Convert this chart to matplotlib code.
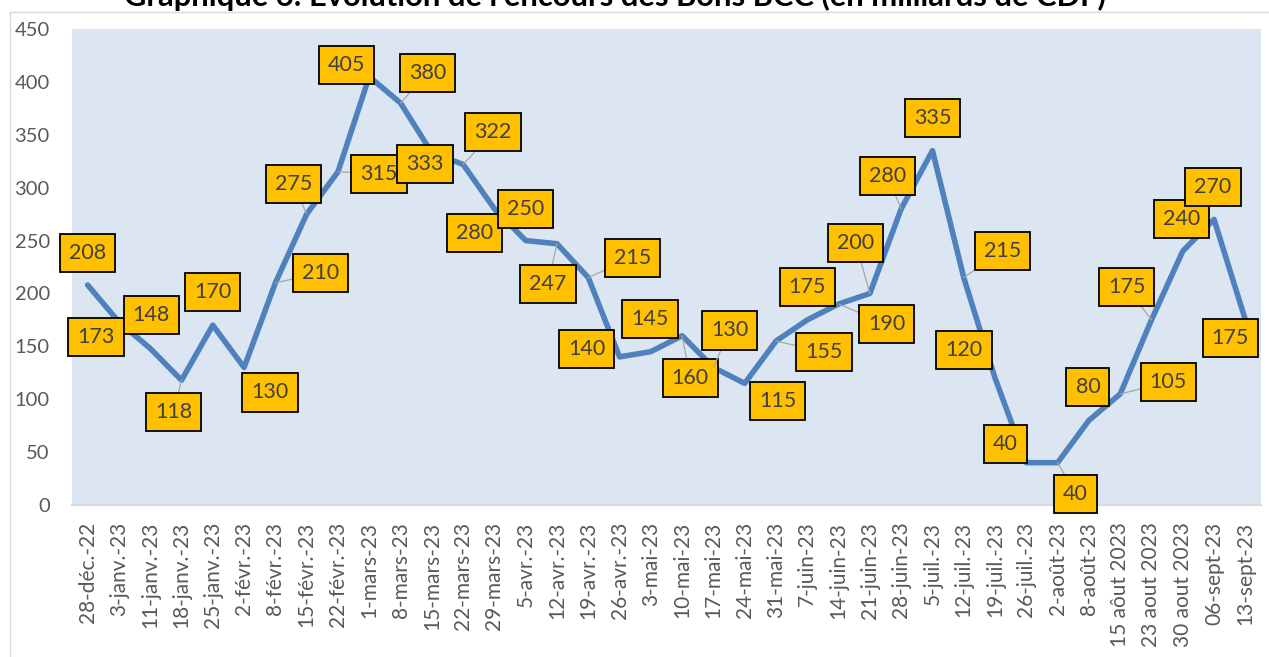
import numpy as np
import matplotlib
matplotlib.use("Agg")
import matplotlib.pyplot as plt
from matplotlib.lines import Line2D


# DATA

dates = [
    "28-déc.-22", "3-janv.-23", "11-janv.-23", "18-janv.-23", "25-janv.-23",
    "2-févr.-23", "8-févr.-23", "15-févr.-23", "22-févr.-23", "1-mars-23",
    "8-mars-23", "15-mars-23", "22-mars-23", "29-mars-23", "5-avr.-23",
    "12-avr.-23", "19-avr.-23", "26-avr.-23", "3-mai-23", "10-mai-23",
    "17-mai-23", "24-mai-23", "31-mai-23", "7-juin-23", "14-juin-23",
    "21-juin-23", "28-juin-23", "5-juil.-23", "12-juil.-23", "19-juil.-23",
    "26-juil.-23", "2-août-23", "8-août-23", "15 aôut 2023", "23 aout 2023",
    "30 aout 2023", "06-sept-23", "13-sept-23",
]

encours = [
    208, 173, 148, 118, 170, 130, 210, 275, 315, 405,
    380, 333, 322, 280, 250, 247, 215, 140, 145, 160,
    130, 115, 155, 175, 190, 200, 280, 335, 215, 120,
    40, 40, 80, 105, 175, 240, 270, 175,
]

title = "Graphique 6: Evolution de l’encours des Bons BCC (en milliards de CDF)"


# LABEL PLACEMENT (pixel offsets of each box from its point)

label_dx = [
    0, -23, 1, -8, 0, 26, 45, -13, 41, -23,
    27, -7, 30, -20, 0, -9, 44, -33, -1, 8,
    16, 33, 48, 0, 48, -14, -14, 0, 39, -31,
    -21, 18, -1, 48, -25, -1, -1, -15,
]
label_dy = [
    32, -15, 33, -32, 33, -25, 10, 30, -2, 12,
    30, -11, 32, -24, 32, -40, 20, 8, 33, -42,
    37, -18, -11, 33, -20, 50, 33, 33, 27, 28,
    19, -31, 33, 12, 33, 32, 32, -18,
]
leaders = {3, 6, 7, 8, 10, 12, 15, 16, 19, 20, 22, 24, 25, 26, 28, 31, 33, 34}


# STYLE

plt.rcParams['font.family'] = ['Lato', 'DejaVu Sans']

W, H = 1269, 657
line_color = "#4F81BD"
bg_color = "#DCE6F2"
tick_color = "#595959"

fig = plt.figure(figsize=(W / 100, H / 100), dpi=100)
ax = fig.add_axes([72 / W, (H - 505) / H, 1189 / W, 476 / H])
ax.set_facecolor(bg_color)

x = np.arange(len(encours))
ax.plot(x, encours, color=line_color, linewidth=4.0,
        solid_joinstyle="round", solid_capstyle="round", zorder=2)

for i, v in enumerate(encours):
    arrow = None
    if i in leaders:
        arrow = dict(arrowstyle="-", color="#A6A6A6", lw=0.9,
                     shrinkA=0, shrinkB=0)
    ax.annotate(
        str(v), xy=(i, v),
        xytext=(label_dx[i], label_dy[i]), textcoords="offset pixels",
        ha="center", va="center", fontsize=15.5, color="#404040",
        bbox=dict(boxstyle="square,pad=0.42", facecolor="#FFC000",
                  edgecolor="black", linewidth=1.3),
        arrowprops=arrow, zorder=3, annotation_clip=False,
    )

ax.set_xlim(-0.5, len(encours) - 0.5)
ax.set_ylim(0, 450)
ax.set_yticks(np.arange(0, 451, 50))
ax.set_xticks(x)
ax.set_xticklabels(dates, rotation=90, ha="center", va="top")

ax.tick_params(axis="y", length=0, pad=16, labelsize=14.5, labelcolor=tick_color)
ax.tick_params(axis="x", length=0, pad=12, labelsize=15, labelcolor=tick_color)

for side in ["top", "right", "left"]:
    ax.spines[side].set_visible(False)
ax.spines["bottom"].set_color("#D9D9D9")
ax.spines["bottom"].set_linewidth(1.5)


# CHART AREA BORDER + TITLE (cut at the top like the source)

border = "#D9D9D9"
fig.add_artist(Line2D([10 / W, 1], [1 - 12 / H, 1 - 12 / H],
                      transform=fig.transFigure, color=border, lw=1))
fig.add_artist(Line2D([10 / W, 10 / W], [0, 1 - 12 / H],
                      transform=fig.transFigure, color=border, lw=1))

t = fig.text(615 / W, 1 - 6 / H, title, ha="center", va="baseline",
             fontsize=20, fontweight="bold", color="black")
fig.canvas.draw()
tw = t.get_window_extent().width
t.set_fontsize(20 * 980 / tw)

fig.savefig("out.png", dpi=100)
